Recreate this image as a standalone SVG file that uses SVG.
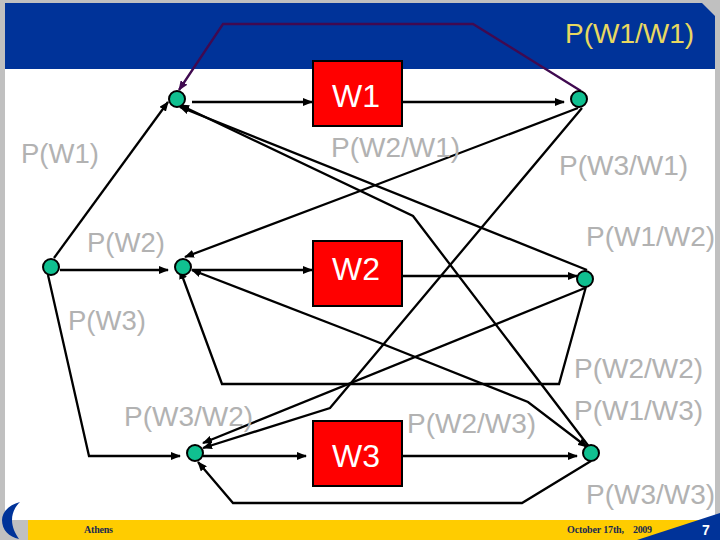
<svg xmlns="http://www.w3.org/2000/svg" width="720" height="540" viewBox="0 0 720 540">
<style>
.l{font-family:"Liberation Sans",Arial,sans-serif;font-size:28px;fill:#b2b2b2}
.s{font-size:27.5px}
.b{font-family:"Liberation Sans",Arial,sans-serif;font-size:32px;fill:#fff}
.f{font-family:"Liberation Serif",serif;font-size:10px;font-weight:bold;fill:#1a2a50}
.c{fill:none;stroke:#000;stroke-width:2.3}
.a{marker-end:url(#ah)}
.n{fill:#10c090;stroke:#000;stroke-width:2}
.r{fill:#f00;stroke:#000;stroke-width:2}
</style>
<defs>
<marker id="ah" markerUnits="userSpaceOnUse" markerWidth="10" markerHeight="8" refX="9" refY="4" orient="auto"><path d="M0 0L10 4L0 8z" fill="#000"/></marker>
<marker id="ap" markerUnits="userSpaceOnUse" markerWidth="10" markerHeight="8" refX="9" refY="4" orient="auto"><path d="M0 0L10 4L0 8z" fill="#400a50"/></marker>
</defs>
<rect width="720" height="540" fill="#c0c0c0"/>
<rect x="5" y="69" width="710" height="451" fill="#fff"/>
<path d="M5 3H702L715 16V69H5z" fill="#003399"/>
<rect x="28" y="520" width="692" height="20" fill="#ffcc00"/>
<path d="M637 540L720 513V540z" fill="#003399"/>
<path d="M20 502C8 505 2 513 2 520C2 530 9 537 19 539C15 533 12 527 12 520C12 513 15 507 20 502z" fill="#003399"/>
<g id="connectors">
<path class="c" style="stroke:#400a50;marker-end:url(#ap)" d="M581 91L473 24H223L179 90"/>
<path class="c a" d="M192 102H312"/>
<path class="c a" d="M403 102H564"/>
<path class="c a" d="M54 258L168 102"/>
<path class="c a" d="M578 108L360 191L185 257"/>
<path class="c a" d="M590 448L413 216L180 105"/>
<path class="c a" d="M587 270L180 107"/>
<path class="c a" d="M582 108L330 408L203 448"/>
<path class="c a" d="M585 288L203 443"/>
<path class="c a" d="M587 283L559 384H222L180 270"/>
<path class="c a" d="M360 335L192 270"/>
<path class="c a" d="M360 335L528 402L587 447"/>
<path class="c a" d="M591 461L522 503H233L198 462"/>
<path class="c a" d="M48 275L89 456H180"/>
<path class="c a" d="M60 270H168"/>
<path class="c a" d="M192 270H312"/>
<path class="c a" d="M403 276H577"/>
<path class="c a" d="M203 456H306"/>
<path class="c a" d="M403 456H577"/>
</g>
<g id="W1"><rect class="r" x="313" y="61" width="89" height="65"/><text class="b" x="356" y="107" text-anchor="middle">W1</text></g>
<g id="W2"><rect class="r" x="313" y="241" width="89" height="65"/><text class="b" x="356" y="280" text-anchor="middle">W2</text></g>
<g id="W3"><rect class="r" x="313" y="421" width="89" height="65"/><text class="b" x="356" y="467" text-anchor="middle">W3</text></g>
<g id="n1"><circle class="n" cx="177" cy="99" r="8"/></g>
<g id="n2"><circle class="n" cx="579" cy="99" r="8"/></g>
<g id="n3"><circle class="n" cx="51" cy="267" r="8"/></g>
<g id="n4"><circle class="n" cx="183" cy="267" r="8"/></g>
<g id="n5"><circle class="n" cx="585" cy="279" r="8"/></g>
<g id="n6"><circle class="n" cx="195" cy="453" r="8"/></g>
<g id="n7"><circle class="n" cx="591" cy="453" r="8"/></g>
<g id="labels">
<text class="l" x="565" y="43" style="fill:#e8d860">P(W1/W1)</text>
<text class="l s" x="21" y="163">P(W1)</text>
<text class="l" x="331" y="157">P(W2/W1)</text>
<text class="l" x="559" y="175">P(W3/W1)</text>
<text class="l s" x="87" y="252">P(W2)</text>
<text class="l" x="586" y="246">P(W1/W2)</text>
<text class="l s" x="68" y="330">P(W3)</text>
<text class="l" x="574" y="378">P(W2/W2)</text>
<text class="l" x="574" y="420">P(W1/W3)</text>
<text class="l" x="124" y="426">P(W3/W2)</text>
<text class="l" x="407" y="433">P(W2/W3)</text>
<text class="l" x="586" y="504">P(W3/W3)</text>
<text class="f" x="84" y="533" textLength="29">Athens</text>
<text class="f" x="567" y="533" textLength="57">October 17th,</text>
<text class="f" x="633" y="533" textLength="19">2009</text>
<text x="706" y="535" text-anchor="middle" style="font-family:'Liberation Sans',sans-serif;font-size:14px;font-weight:bold;fill:#fff">7</text>
</g>
</svg>
